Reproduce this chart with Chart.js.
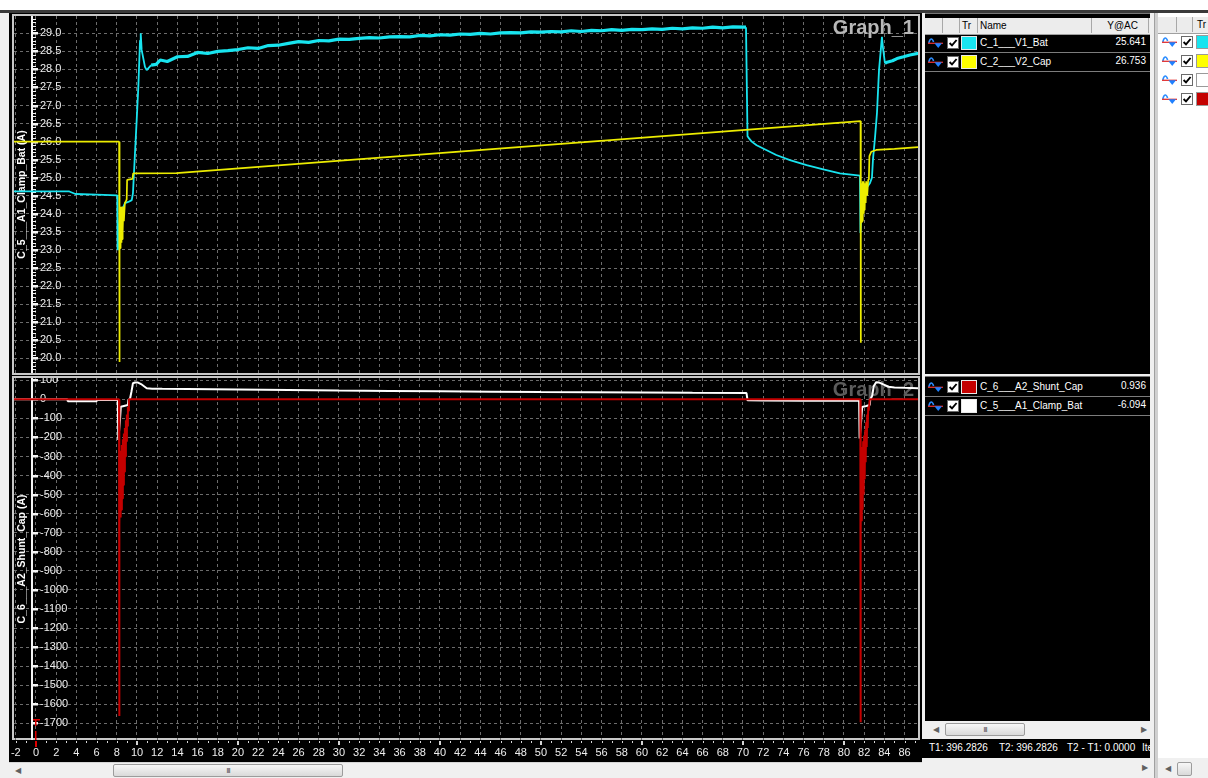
<!DOCTYPE html>
<html lang="en">
<head>
<meta charset="utf-8">
<title>Graph_1 / Graph_2</title>
<script src="https://cdn.jsdelivr.net/npm/chart.js@4.4.1/dist/chart.umd.min.js"></script>
<style>
  html, body { margin: 0; padding: 0; }
  body { width: 1208px; height: 778px; overflow: hidden; position: relative; background: #f0f0f0;
         font-family: "Liberation Sans", Arial, Helvetica, sans-serif; }
  .a { position: absolute; box-sizing: border-box; }
  canvas { position: absolute; display: block; }
  .graph { border: 2px solid #c8c8c8; background: #000; }
  .arrow { position: absolute; font-size: 8px; color: #606060; line-height: 1; }
  .thumb { position: absolute; box-sizing: border-box; border: 1px solid #9c9c9c; border-radius: 2px;
           background: linear-gradient(#f7f7f7, #d9d9d9); font-size: 8px; color: #555; text-align: center;
           line-height: 11px; letter-spacing: -1px; }
  .hdr { position: absolute; left: 0; right: 0; top: 4px; height: 16px; background: #ececec;
         border-bottom: 1px solid #a0a0a0; font-size: 10px; color: #000; }
  .hc { position: absolute; top: 0; height: 15px; line-height: 15px; border-right: 1px solid #a8a8a8;
        box-sizing: border-box; white-space: nowrap; overflow: hidden; padding-left: 2px; }
  .row { position: absolute; left: 0; right: 0; height: 19px; box-sizing: border-box; font-size: 10px; }
  .row.dark { color: #fff; border-bottom: 1px solid #7c7c7c; }
  .row > * { position: absolute; }
  .sw { width: 16px; height: 14px; top: 2px; box-sizing: border-box; border: 1px solid #e8e8e8; }
  .nm { left: 55px; top: 0; line-height: 18px; white-space: nowrap; }
  .val { right: 4px; top: 0; line-height: 16px; }
  .status { font-size: 10px; color: #fff; white-space: nowrap; line-height: 18px; }
</style>
</head>
<body>

<!-- window chrome -->
<div class="a" style="left:0;top:0;width:1208px;height:10px;background:#fff"></div>
<div class="a" style="left:0;top:10px;width:1208px;height:3px;background:#3a3a3a"></div>

<!-- plot area (two stacked graphs sharing one time axis) -->
<div class="a" style="left:9px;top:13px;width:913px;height:749px;background:#000"></div>
<div class="a graph" style="left:12px;top:14px;width:908px;height:361px"></div>
<div class="a graph" style="left:12px;top:376px;width:908px;height:364px"></div>
<canvas id="graph1" width="904" height="357" style="left:14px;top:16px"></canvas>
<canvas id="graph2" width="909" height="384" style="left:9px;top:378px"></canvas>

<!-- horizontal scrollbar under the graphs -->
<div class="a" style="left:9px;top:762px;width:913px;height:16px;background:#f0f0f0;border-top:1px solid #d6d6d6"></div>
<div class="arrow" style="left:15px;top:767px">&#9664;</div>
<div class="thumb" style="left:113px;top:764px;width:230px;height:13px">III</div>

<!-- trace list, graph 1 -->
<div class="a" id="list1" style="left:925px;top:13px;width:225px;height:361px;background:#000;border-top:1px solid #777">
  <div class="hdr">
    <div class="hc" style="left:0;width:18px"></div>
    <div class="hc" style="left:18px;width:17px"></div>
    <div class="hc" style="left:35px;width:18px">Tr</div>
    <div class="hc" style="left:53px;width:114px">Name</div>
    <div class="hc" style="left:167px;width:57px;text-align:right;padding-right:10px">Y@AC</div>
  </div>
</div>

<!-- trace list, graph 2 -->
<div class="a" id="list2" style="left:925px;top:376px;width:225px;height:345px;background:#000;border-top:1px solid #777"></div>
<div class="a" style="left:925px;top:721px;width:225px;height:18px;background:#f0f0f0"></div>
<div class="arrow" style="left:933px;top:726px">&#9664;</div>
<div class="thumb" style="left:945px;top:723px;width:80px;height:13px">III</div>
<div class="arrow" style="left:1141px;top:726px">&#9654;</div>
<div class="a status" style="left:920px;top:739px;width:230px;height:19px;background:#000;overflow:hidden">
  <span class="a" style="left:9px;top:0">T1: 396.2826</span>
  <span class="a" style="left:79px;top:0">T2: 396.2826</span>
  <span class="a" style="left:147px;top:0">T2 - T1: 0.0000</span>
  <span class="a" style="left:222px;top:0">Ite</span>
</div>
<div class="arrow" style="left:1142px;top:764px">&#9654;</div>

<!-- trace visibility panel -->
<div class="a" style="left:1154px;top:13px;width:4px;height:765px;background:#d0d0d0;border-left:1px solid #a0a0a0"></div>
<div class="a" id="list3" style="left:1158px;top:13px;width:50px;height:745px;background:#fff">
  <div class="hdr">
    <div class="hc" style="left:0;width:19px"></div>
    <div class="hc" style="left:19px;width:16px"></div>
    <div class="hc" style="left:35px;width:30px;padding-left:4px">Tr</div>
  </div>
</div>
<div class="a" style="left:1158px;top:758px;width:50px;height:20px;background:#f0f0f0"></div>
<div class="arrow" style="left:1165px;top:765px">&#9664;</div>
<div class="thumb" style="left:1177px;top:762px;width:15px;height:14px"></div>

<script>
// ---- trace data: time (s) and value per channel ----
const batTime = [
  -2.2, 3.3, 3.9, 6.0, 8.05,
  8.08, 8.12, 8.32, 8.49, 8.81, 9.14, 9.48, 9.6, 9.8, 9.97, 10.13, 10.3, 10.37, 10.46, 10.79, 10.96,
  11.4, 11.9, 12.3,
  13, 14, 15, 16, 17, 18, 19, 20, 21, 22, 23, 24, 25, 26, 27, 28, 29, 30, 31,
  32, 33, 34, 35, 36, 37, 38, 39, 40, 41, 42, 43, 44, 45, 46, 47, 48, 49, 50,
  51, 52, 53, 54, 55, 56, 57, 58, 59, 60, 61, 62, 63, 64, 65, 66, 67, 68, 69,
  70.3,
  70.45, 70.6, 70.86, 71.35, 72.3, 73.3, 74.65, 76.3, 77.95, 79.6, 81.58,
  81.63, 81.88, 82.28, 82.57, 82.77, 82.87, 83.07, 83.27, 83.47, 83.76, 83.86, 84.06, 84.26, 84.8, 85.25,
  85.9, 86.53, 87.5
];
const batVolt = [
  24.62, 24.62, 24.55, 24.53, 24.51,
  23.0, 23.02, 24.0, 24.1, 24.3, 24.33, 24.38, 24.57, 25.68, 26.6, 27.5, 28.8, 29.0, 28.54, 28.07, 27.98,
  28.12, 28.14, 28.26,
  28.22, 28.35, 28.36, 28.47, 28.44, 28.5, 28.52, 28.55, 28.6, 28.58, 28.66, 28.67, 28.72, 28.77, 28.75, 28.8, 28.79, 28.84, 28.83,
  28.86, 28.88, 28.87, 28.9, 28.91, 28.9, 28.94, 28.93, 28.96, 28.95, 28.98, 28.97, 29.0, 28.98, 29.01, 29.02, 29.01, 29.04, 29.03,
  29.05, 29.04, 29.07, 29.05, 29.08, 29.07, 29.1, 29.08, 29.11, 29.1, 29.12, 29.11, 29.14, 29.12, 29.15, 29.14, 29.17, 29.15, 29.18,
  29.17,
  26.15, 26.09, 26.0, 25.9, 25.77, 25.63, 25.49, 25.35, 25.23, 25.12, 25.06,
  23.47, 24.57, 24.74, 24.85, 25.0, 25.5, 26.1, 26.8, 27.98, 28.9, 28.6, 28.17, 28.2, 28.24, 28.3,
  28.35, 28.4, 28.45
];

const capTime = [
  -2.2, 8.23, 8.25, 8.27, 8.3, 8.33, 8.36, 8.39, 8.42, 8.45, 8.48, 8.52, 8.56, 8.6, 8.65, 8.7, 8.8, 8.9,
  8.98, 9.02, 9.55, 9.62, 13.9, 81.64,
  81.66, 81.68, 81.71, 81.74, 81.77, 81.8, 81.84, 81.88, 81.92, 81.96, 82.0, 82.05, 82.1, 82.15, 82.2,
  82.3, 82.4, 82.47, 82.52, 82.7, 83.2, 85.0, 87.5
];
const capVolt = [
  26.0, 26.0, 19.9, 23.0, 24.15, 23.05, 24.2, 23.1, 24.1, 23.2, 24.2, 23.3, 24.0, 23.5, 24.2, 23.8, 24.3, 24.35,
  24.4, 24.94, 24.97, 25.12, 25.13, 26.57,
  20.43, 23.6, 24.8, 23.75, 24.85, 23.8, 24.9, 23.9, 24.9, 24.0, 24.8, 24.1, 24.85, 24.3, 24.9,
  24.5, 24.95, 25.0, 25.6, 25.72, 25.77, 25.8, 25.85
];

const shuntTime = [
  -2.2, 8.22, 8.23, 8.25, 8.28, 8.32, 8.36, 8.4, 8.45, 8.5, 8.55, 8.6, 8.65, 8.7, 8.75, 8.8, 8.85, 8.9,
  8.95, 9.0, 9.05, 9.1, 9.15, 9.2, 81.62,
  81.63, 81.65, 81.68, 81.72, 81.76, 81.8, 81.85, 81.9, 81.95, 82.0, 82.05, 82.1, 82.15, 82.2, 82.25,
  82.3, 82.35, 82.4, 82.45, 82.55, 87.5
];
const shuntAmp = [
  0, 0, -1662, -300, -660, -290, -620, -270, -580, -240, -520, -210, -450, -180, -380, -150, -300, -110,
  -220, -80, -140, -40, -60, 0, 0,
  -1695, -300, -690, -280, -640, -250, -580, -220, -500, -190, -420, -160, -330, -120, -250,
  -80, -150, -40, -60, 0, 0
];

const clampTime = [
  -2.2, 3.1, 3.15, 6.0, 6.05, 8.1, 8.15, 8.3, 8.4, 8.7, 9.1, 9.15, 9.3, 9.45, 9.6, 9.8, 10.1, 10.4, 10.96,
  11.5, 12.5, 15.0, 20.0, 25.0, 30.0, 35.0, 40.0, 45.0, 50.0, 55.0, 60.0, 65.0, 70.35, 70.45, 72.0, 76.0, 81.5,
  81.55, 81.65, 81.8, 82.2, 82.55, 82.6, 82.8, 82.95, 83.2, 83.5, 83.9, 84.4, 85.0, 86.0, 87.5
];
const clampAmp = [
  0, 0, -10, -10, -3, -3, -213, -120, -39, -35, -30, -2, 0, 40, 84, 88, 88, 80, 58,
  56, 55, 54, 52, 49, 46, 44, 42, 40, 38, 37, 36, 34, 33, -5, -6, -7, -6,
  -205, -150, -40, -35, -30, -3, 20, 70, 90, 88, 78, 66, 62, 60, 58
];

// tick values on the two value axes
const voltTicks = [20.0, 20.5, 21.0, 21.5, 22.0, 22.5, 23.0, 23.5, 24.0, 24.5, 25.0, 25.5, 26.0, 26.5,
                   27.0, 27.5, 28.0, 28.5, 29.0];
const ampTicks = [100, 0, -100, -200, -300, -400, -500, -600, -700, -800, -900, -1000, -1100, -1200,
                  -1300, -1400, -1500, -1600, -1700];

// cursor read-outs shown in the trace lists
const listTop = ['C_1___V1_Bat', 'C_2___V2_Cap'];
const listTopValues = ['25.641', '26.753'];
const listBottom = ['C_6___A2_Shunt_Cap', 'C_5___A1_Clamp_Bat'];
const listBottomValues = ['0.936', '-6.094'];

// ---- styling ----
const FONT = '"Liberation Sans", Arial, Helvetica, sans-serif';
const CYAN = '#18e4ef', YELLOW = '#ecec00', RED = '#c40000', WHITE = '#ffffff';
const GRID = '#6c6c6c';
const TIME_MIN = -2.178, TIME_MAX = 87.33;

Chart.defaults.font.family = FONT;

function points(t, v) { return t.map((x, i) => ({ x, y: v[i] })); }

// ---- trace list panels ----
const ICON = '<svg width="15" height="12" viewBox="0 0 15 12"><path d="M0.8 6 C2 0.8 4.2 0.8 5.6 5" stroke="#2b8dff" stroke-width="1.6" fill="none"/><path d="M0 6.3 H15" stroke="#e23030" stroke-width="1.3"/><path d="M6.5 6.2 L14 6.2 L10.2 11 Z" fill="#1f80ff"/></svg>';
const CHECK = '<svg width="12" height="12" viewBox="0 0 12 12"><rect x="0.5" y="0.5" width="11" height="11" fill="#fff" stroke="#6a6a6a"/><path d="M2.6 6 L5 8.4 L9.6 3" stroke="#000" stroke-width="1.9" fill="none"/></svg>';

function addRows(panel, names, values, colors, top) {
  names.forEach((n, i) => {
    const r = document.createElement('div');
    r.className = 'row dark';
    r.style.top = (top + i * 19) + 'px';
    r.innerHTML =
      '<span style="left:3px;top:3px">' + ICON + '</span>' +
      '<span style="left:22px;top:3px">' + CHECK + '</span>' +
      '<span class="sw" style="left:36px;background:' + colors[i] + '"></span>' +
      '<span class="nm">' + n + '</span>' +
      '<span class="val">' + values[i] + '</span>';
    panel.appendChild(r);
  });
}
addRows(document.getElementById('list1'), listTop, listTopValues, [CYAN, '#ffff00'], 20);
addRows(document.getElementById('list2'), listBottom, listBottomValues, [RED, WHITE], 1);

(function () {
  const panel = document.getElementById('list3');
  [CYAN, '#ffff00', WHITE, RED].forEach((c, i) => {
    const r = document.createElement('div');
    r.className = 'row';
    r.style.top = (20 + i * 19) + 'px';
    r.innerHTML =
      '<span style="left:4px;top:3px">' + ICON + '</span>' +
      '<span style="left:23px;top:3px">' + CHECK + '</span>' +
      '<span class="sw" style="left:38px;background:' + c + ';border-color:#9a9a9a"></span>';
    panel.appendChild(r);
  });
})();

// ---- scope decorations: graph name, vertical ruler, axis title, time ruler, trigger mark ----
const scopeDecor = {
  id: 'scopeDecor',
  beforeDatasetsDraw(chart, args, o) {
    const { ctx, chartArea: a, scales: { y } } = chart;
    ctx.save();
    ctx.font = 'bold 20px ' + FONT;
    ctx.fillStyle = o.nameColor;
    ctx.textAlign = 'right';
    ctx.textBaseline = 'middle';
    ctx.fillText(o.name, a.right - 4, a.top + 12);

    const ax = a.left + 19;
    ctx.fillStyle = '#f4f4f4';
    ctx.fillRect(ax - 2, a.top, 2, a.bottom - a.top);
    const ratio = Math.round(o.major / o.minor);
    const k0 = Math.ceil(y.min / o.minor - 1e-6), k1 = Math.floor(y.max / o.minor + 1e-6);
    for (let k = k0; k <= k1; k++) {
      const py = Math.round(y.getPixelForValue(k * o.minor));
      if (((k % ratio) + ratio) % ratio === 0) ctx.fillRect(ax, py - 1, 5, 2.5);
      else ctx.fillRect(ax, py, 3, 1);
    }

    ctx.translate(a.left + 8, (a.top + a.bottom) / 2);
    ctx.rotate(-Math.PI / 2);
    ctx.font = 'bold 10.5px ' + FONT;
    ctx.fillStyle = '#ffffff';
    ctx.textAlign = 'center';
    ctx.fillText(o.title, 0, 0);
    ctx.restore();
  },
  afterDraw(chart, args, o) {
    if (!o.timeRuler) return;
    const { ctx, chartArea: a, scales: { x, y } } = chart;
    ctx.save();
    ctx.fillStyle = '#d4d4d4';
    for (let k = Math.ceil(x.min); k <= Math.floor(x.max); k++) {
      const px = Math.round(x.getPixelForValue(k));
      if (k % 10 === 0) ctx.fillRect(px - 1, a.bottom + 1, 2, 4);
      else ctx.fillRect(px, a.bottom + 1, 1, 2);
    }
    const p0 = Math.round(x.getPixelForValue(0));
    ctx.fillStyle = '#e00000';
    ctx.fillRect(p0 - 1, a.bottom + 1, 2, 6);
    const pt = Math.round(y.getPixelForValue(-1700));
    ctx.fillRect(p0 - 3, pt - 4, 7, 1.5);
    ctx.fillRect(p0 - 1, pt - 4, 1.5, 7);
    ctx.fillRect(p0 - 1, pt + 8, 1.5, a.bottom - pt - 8);
    ctx.restore();
  }
};

function timeAxis(showLabels) {
  return {
    type: 'linear',
    min: TIME_MIN,
    max: TIME_MAX,
    afterFit: s => { s.height = showLabels ? 22 : 0; s.paddingLeft = 0; s.paddingRight = 0; },
    ticks: {
      display: showLabels, stepSize: 2, includeBounds: false, autoSkip: false, maxRotation: 0,
      padding: 6, color: '#eeeeee', font: { size: 11 },
      callback: v => String(Math.round(v))
    },
    grid: { color: GRID, lineWidth: 1, drawTicks: false },
    border: { display: false, dash: [3, 3] }
  };
}

function valueAxis(min, max, values, fmt) {
  return {
    type: 'linear',
    bounds: 'data',
    min, max,
    afterBuildTicks: s => { s.ticks = values.map(v => ({ value: v })); },
    afterFit: s => { s.width = 0; s.paddingTop = 0; s.paddingBottom = 0; },
    ticks: {
      mirror: true, padding: 26, autoSkip: false,
      color: '#f0f0f0', font: { size: 11 }, callback: fmt
    },
    grid: { color: GRID, lineWidth: 1, drawTicks: false },
    border: { display: false, dash: [3, 3] }
  };
}

function baseOptions(leftPad) {
  return {
    responsive: false,
    animation: false,
    events: [],
    layout: { padding: { left: leftPad, top: 0, right: 0, bottom: 0 }, autoPadding: false },
    elements: { point: { radius: 0 }, line: { tension: 0, borderJoinStyle: 'bevel' } }
  };
}

// Graph_1: battery and capacitor voltages
new Chart(document.getElementById('graph1'), {
  type: 'line',
  data: {
    datasets: [
      { label: 'C_2___V2_Cap', data: points(capTime, capVolt), borderColor: YELLOW, borderWidth: 1.7, order: 0 },
      {
        label: 'C_1___V1_Bat', data: points(batTime, batVolt), borderColor: CYAN, borderWidth: 1.8, order: 1,
        segment: {
          borderWidth: c => {
            const t = c.p0.parsed.x;
            return (t >= 11.3 && t < 70.3) || t >= 84.0 ? 3.2 : 1.8;
          }
        }
      }
    ]
  },
  options: Object.assign(baseOptions(0), {
    plugins: {
      legend: { display: false }, tooltip: { enabled: false },
      scopeDecor: { name: 'Graph_1', nameColor: '#b8b8b8', title: 'C_5___A1_Clamp_Bat (A)', minor: 0.1, major: 0.5 }
    },
    scales: {
      x: timeAxis(false),
      y: valueAxis(19.593, 29.479, voltTicks, v => v.toFixed(1))
    }
  }),
  plugins: [scopeDecor]
});

// Graph_2: shunt and clamp currents
new Chart(document.getElementById('graph2'), {
  type: 'line',
  data: {
    datasets: [
      { label: 'C_6___A2_Shunt_Cap', data: points(shuntTime, shuntAmp), borderColor: RED, borderWidth: 2, order: 0 },
      { label: 'C_5___A1_Clamp_Bat', data: points(clampTime, clampAmp), borderColor: WHITE, borderWidth: 2, order: 1 }
    ]
  },
  options: Object.assign(baseOptions(5), {
    plugins: {
      legend: { display: false }, tooltip: { enabled: false },
      scopeDecor: { name: 'Graph_2', nameColor: '#5c5c5c', title: 'C_6___A2_Shunt_Cap (A)', minor: 100, major: 100, timeRuler: true }
    },
    scales: {
      x: timeAxis(true),
      y: valueAxis(-1787.6, 111.8, ampTicks, v => String(Math.round(v)))
    }
  }),
  plugins: [scopeDecor]
});
</script>
</body>
</html>
